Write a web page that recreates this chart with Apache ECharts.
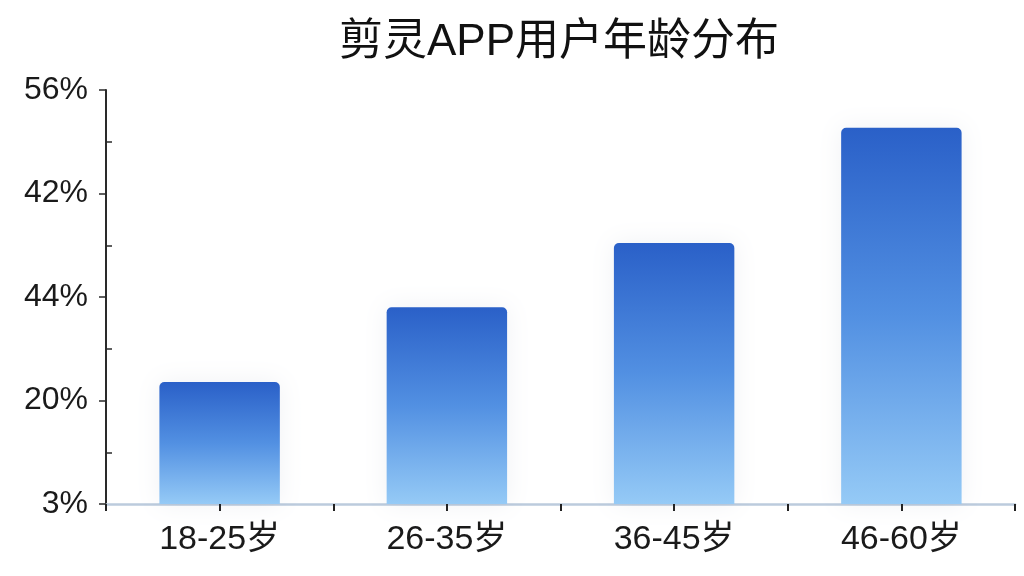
<!DOCTYPE html>
<html>
<head>
<meta charset="utf-8">
<script src="https://cdn.jsdelivr.net/npm/echarts@6/dist/echarts.min.js"></script>
<style>
html,body{margin:0;padding:0;background:#fff;}
#chart{width:1024px;height:576px;}
</style>
</head>
<body>
<div id="chart"></div>
<script>
var titleText = '剪灵APP用户年龄分布';
var categories = ['18-25岁', '26-35岁', '36-45岁', '46-60岁'];
var values = [16.5, 26.6, 35.3, 50.9];
var yTickLabels = ['3%', '20%', '44%', '42%', '56%'];
var yMax = 56;
var yStep = 14;

var minorTicks = [];
for (var v = yStep / 2; v < yMax; v += yStep) minorTicks.push(v);

var latin = '"Liberation Sans", Arial, "Noto Sans CJK SC", sans-serif';
var chart = echarts.init(document.getElementById('chart'));
chart.setOption({
  backgroundColor: '#ffffff',
  animation: false,
  title: {
    text: titleText,
    left: 334,
    top: 16,
    textStyle: { fontFamily: latin, fontSize: 44, fontWeight: 'normal', color: '#111111' }
  },
  grid: { left: 106, right: 9, top: 90, bottom: 72, containLabel: false },
  xAxis: [{
    type: 'category',
    data: categories,
    position: 'bottom',
    axisLine: { show: true, lineStyle: { color: '#bccbdd', width: 2.5 } },
    axisTick: { show: true, alignWithLabel: false, length: 7, lineStyle: { color: '#222', width: 2 } },
    axisLabel: { fontFamily: latin, fontSize: 34, color: '#1a1a1a', margin: 19 },
    splitLine: { show: false }
  }, {
    type: 'category',
    data: categories,
    position: 'bottom',
    axisLine: { show: false },
    axisTick: { show: true, alignWithLabel: true, length: 7, lineStyle: { color: '#222', width: 2 } },
    axisLabel: { show: false },
    splitLine: { show: false }
  }],
  yAxis: [{
    type: 'value',
    position: 'left',
    min: 0,
    max: yMax,
    interval: yStep,
    axisLine: { show: true, lineStyle: { color: '#2a2a2a', width: 2 } },
    axisTick: { show: true, inside: false, length: 7, lineStyle: { color: '#2a2a2a', width: 1.5 } },
    axisLabel: {
      fontFamily: latin, fontSize: 32, color: '#1a1a1a', margin: 18,
      formatter: function (val) { return yTickLabels[Math.round(val / yStep)]; }
    },
    splitLine: { show: false }
  }, {
    type: 'value',
    position: 'left',
    min: 0,
    max: yMax,
    interval: yStep,
    axisLine: { show: false },
    axisTick: { show: true, inside: true, length: 6, customValues: minorTicks, lineStyle: { color: '#2a2a2a', width: 1.5 } },
    axisLabel: { show: false },
    splitLine: { show: false }
  }],
  series: [{
    type: 'bar',
    xAxisIndex: 0,
    yAxisIndex: 0,
    data: values,
    barWidth: '53%',
    itemStyle: {
      borderRadius: [5, 5, 0, 0],
      shadowBlur: 24,
      shadowColor: 'rgba(60,80,120,0.08)',
      color: new echarts.graphic.LinearGradient(0, 0, 0, 1, [
        { offset: 0, color: '#2a60c8' },
        { offset: 0.5, color: '#5290e2' },
        { offset: 1, color: '#95caf6' }
      ])
    }
  }]
});
</script>
</body>
</html>
